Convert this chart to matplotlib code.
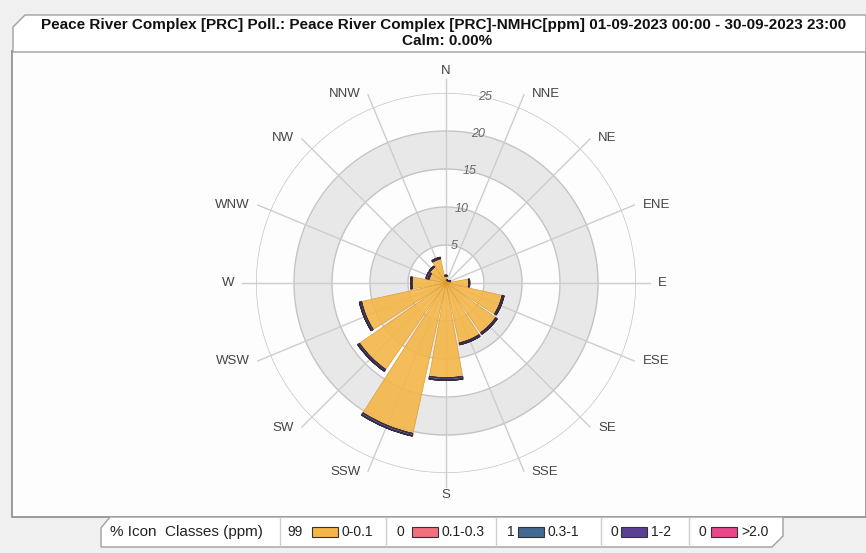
import numpy as np
import matplotlib
matplotlib.use("Agg")
import matplotlib.pyplot as plt
from matplotlib.patches import Polygon, Rectangle

# wind sectors and frequency (%) per concentration class
directions = ['N', 'NNE', 'NE', 'ENE', 'E', 'ESE', 'SE', 'SSE',
              'S', 'SSW', 'SW', 'WSW', 'W', 'WNW', 'NW', 'NNW']
cls_0_01 = [0.9, 0.4, 0.4, 0.6, 3.0, 7.6, 8.0, 8.1,
            12.5, 20.3, 13.9, 11.4, 4.5, 2.3, 2.6, 3.3]
cls_01_03 = [0, 0, 0, 0, 0, 0, 0, 0, 0, 0, 0, 0, 0, 0, 0, 0]
cls_03_1 = [0.1, 0, 0, 0, 0.1, 0.2, 0.2, 0.2,
            0.3, 0.3, 0.25, 0.25, 0.15, 0.1, 0.1, 0.15]
cls_1_2 = [0, 0, 0, 0, 0, 0, 0, 0, 0, 0, 0, 0, 0, 0.3, 0, 0]
cls_gt2 = [0, 0, 0, 0, 0, 0, 0, 0, 0, 0, 0, 0, 0, 0, 0, 0]

class_names = ['0-0.1', '0.1-0.3', '0.3-1', '1-2', '>2.0']
class_pct = ['99', '0', '1', '0', '0']
class_colors = ['#F4B648', '#F2707E', '#42698F', '#5B3F93', '#E8488B']

rings = [5, 10, 15, 20, 25]

W, H = 866, 553
fig = plt.figure(figsize=(W / 100, H / 100), dpi=100)
fig.patch.set_facecolor('#f0f0f0')
font = 'Liberation Sans'


def fx(x):
    return x / W


def fy(y):
    return 1 - y / H


# chart panel
fig.patches.append(Rectangle((fx(12), fy(517)), fx(866) - fx(12), fy(51) - fy(517),
                             transform=fig.transFigure, facecolor='#fdfdfd',
                             edgecolor='#8a8a8a', lw=1.2, zorder=0))

# title tab
tab = [(13, 52), (13, 27), (25, 15), (866, 15), (866, 52)]
fig.patches.append(Polygon([(fx(x), fy(y)) for x, y in tab], closed=True,
                           transform=fig.transFigure, facecolor='white',
                           edgecolor='#a0a0a0', lw=1, zorder=1))
fig.text(fx(444), fy(25), 'Peace River Complex [PRC] Poll.: Peace River Complex [PRC]-NMHC[ppm] '
         '01-09-2023 00:00 - 30-09-2023 23:00', ha='center', va='center',
         fontsize=11, fontweight='bold', family=font, color='#111')
fig.text(fx(447), fy(41), 'Calm: 0.00%', ha='center', va='center',
         fontsize=11, fontweight='bold', family=font, color='#111')

# polar rose
cx, cy, R = 446, 283, 190
ax = fig.add_axes([fx(cx - R), fy(cy + R), 2 * R / W, 2 * R / H], projection='polar')
ax.set_zorder(5)
ax.set_theta_zero_location('N')
ax.set_theta_direction(-1)
ax.set_ylim(0, 25)
ax.set_facecolor('none')
ax.grid(False)
ax.set_xticks([])
ax.set_yticks([])
ax.spines['polar'].set_visible(False)

full = np.linspace(0, 2 * np.pi, 400)
for lo in (5, 15):
    ax.fill_between(full, lo, lo + 5, color='#e8e8e8', lw=0, zorder=0)
for r in rings:
    ax.plot(full, np.full_like(full, r), color='#c4c4c4', lw=1, zorder=1)

theta = np.deg2rad(np.arange(16) * 22.5)
for a in theta:
    ax.plot([a, a], [0, 26.8], color='#cdcdcd', lw=1, zorder=1, clip_on=False)

width = 2 * np.pi / 16 * 0.9
bottom = np.zeros(16)
layers = [cls_0_01, cls_01_03, cls_03_1, cls_1_2, cls_gt2]
for i, vals in enumerate(layers):
    vals = np.array(vals, dtype=float)
    ec = '#d99a2c' if i == 0 else '#3a2840'
    lw = 0.5 if i == 0 else 0.9
    ax.bar(theta, vals, width=width, bottom=bottom, color=class_colors[i],
           edgecolor=ec, lw=lw, alpha=0.9, zorder=2)
    bottom += vals

for r in rings:
    ax.text(np.deg2rad(12), r, str(r), ha='center', va='center', fontsize=9,
            style='italic', color='#666', family=font, zorder=3)

# compass labels, placed just past the end of each spoke
for a, name in zip(theta, directions):
    s, c = np.sin(a), np.cos(a)
    ex, ey = 205 * s, 205 * c
    if abs(s) < 1e-6:
        ha, dx = 'center', 0
        va = 'bottom' if c > 0 else 'top'
        ey += 1 if c > 0 else -1
    else:
        ha = 'left' if s > 0 else 'right'
        dx = 7 if s > 0 else -7
        va = 'center'
    ax.annotate(name, xy=(0.5, 0.5), xycoords='axes fraction',
                xytext=((ex + dx) * 0.72, ey * 0.72), textcoords='offset points',
                ha=ha, va=va, fontsize=9.5, color='#444',
                family=font, annotation_clip=False)

# legend strip
leg = [(101, 547), (101, 528), (110, 517), (783, 517), (783, 536), (772, 547)]
fig.patches.append(Polygon([(fx(x), fy(y)) for x, y in leg], closed=True,
                           transform=fig.transFigure, facecolor='white',
                           edgecolor='#a0a0a0', lw=1, zorder=1))
ly = fy(532)
fig.text(fx(110), ly, '% Icon  Classes (ppm)', ha='left', va='center',
         fontsize=11, family=font, color='#222')
for xd in (280, 386, 496, 601, 689):
    fig.add_artist(plt.Line2D([fx(xd), fx(xd)], [fy(518), fy(546)],
                              transform=fig.transFigure, color='#cfcfcf', lw=1))
pct_x = [303, 404, 515, 618, 706]
sw_x = [312, 412, 518, 621, 711]
for px, sx, pct, nm, col in zip(pct_x, sw_x, class_pct, class_names, class_colors):
    fig.text(fx(px), ly, pct, ha='right', va='center', fontsize=10,
             family=font, color='#222')
    fig.patches.append(Rectangle((fx(sx), fy(537)), 26 / W, 10 / H,
                                 transform=fig.transFigure, facecolor=col,
                                 edgecolor='#333', lw=0.8, zorder=2))
    fig.text(fx(sx + 30), ly, nm, ha='left', va='center', fontsize=10,
             family=font, color='#222')

fig.savefig('out.png', dpi=100, facecolor=fig.get_facecolor())
